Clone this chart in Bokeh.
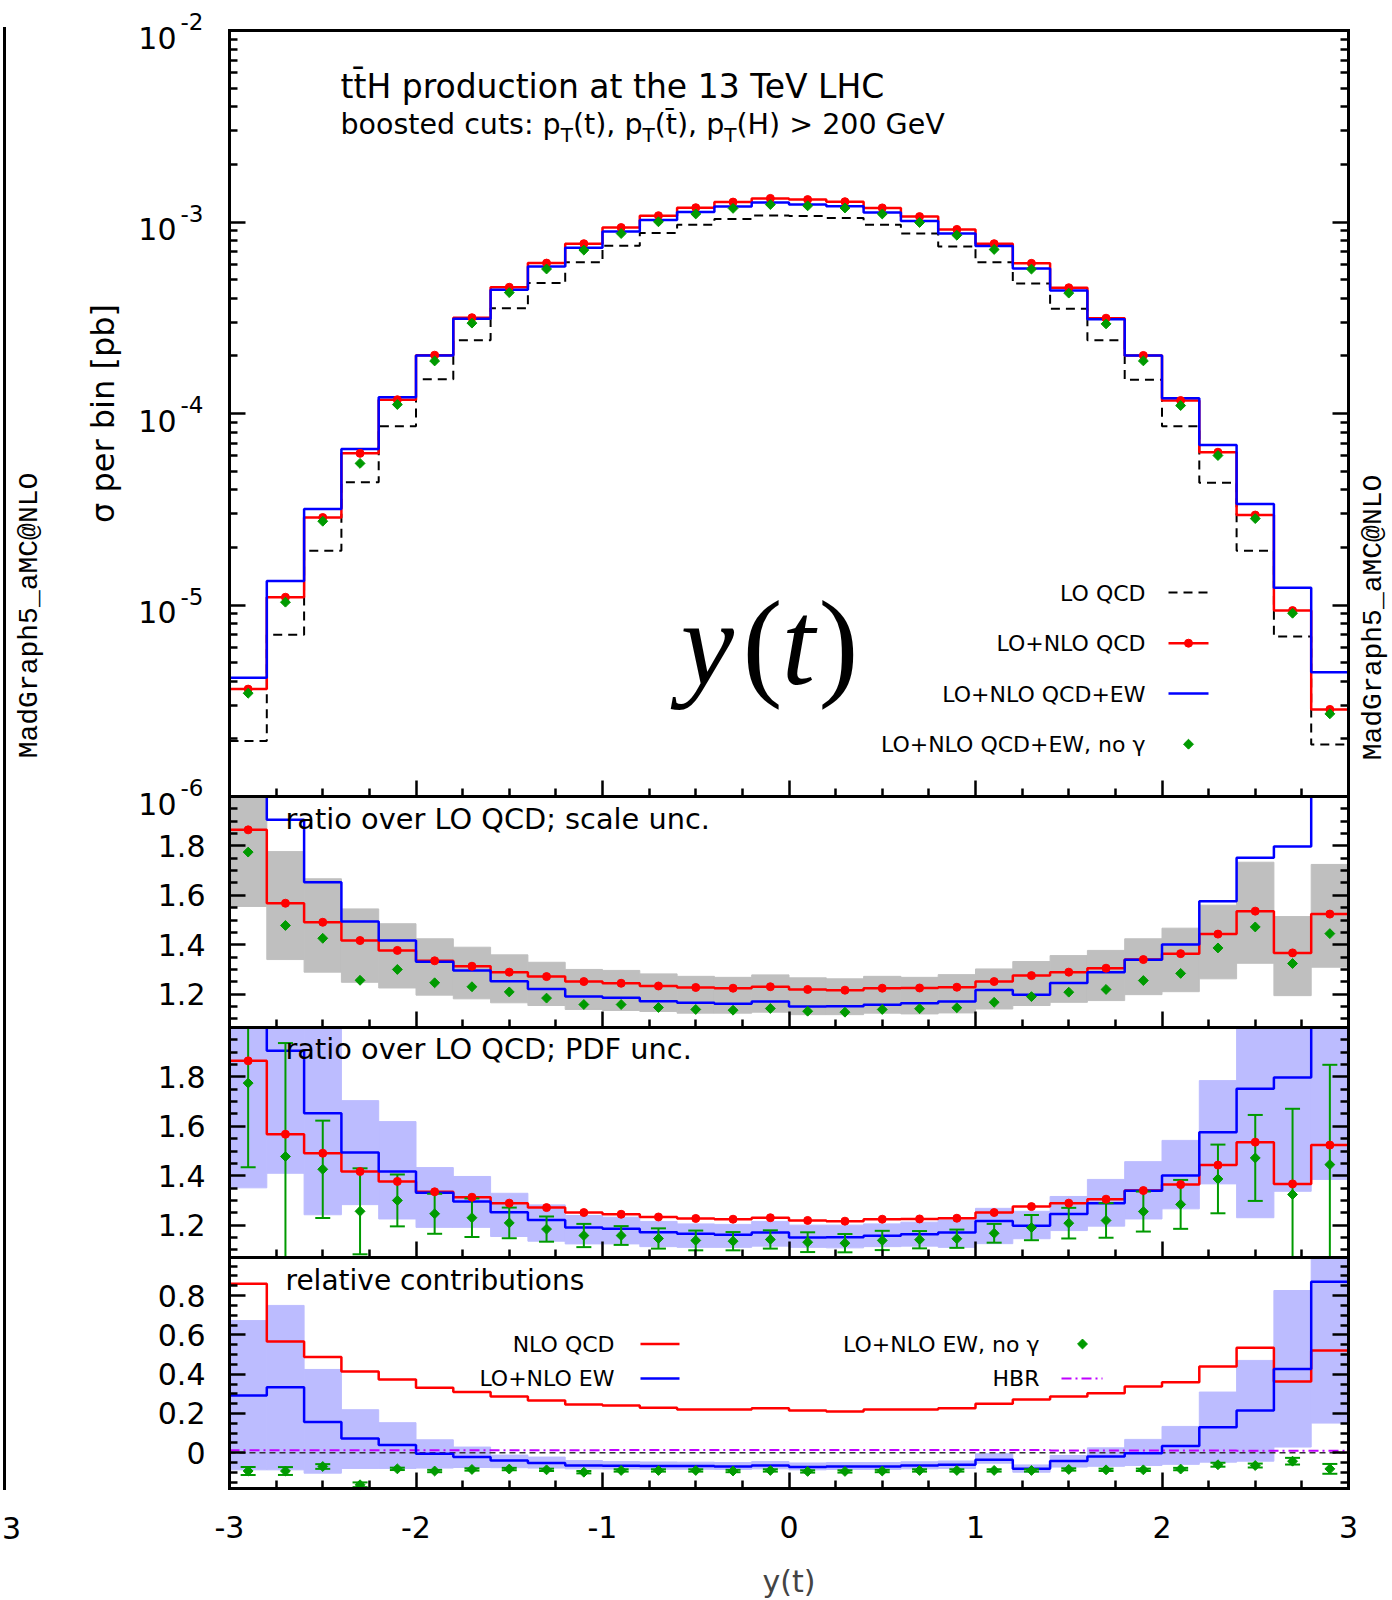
import math
from bokeh.plotting import figure
from bokeh.models import Range1d, FixedTicker, LinearAxis, LogAxis, LogScale, Label
from bokeh.embed import file_html
from bokeh.resources import INLINE

# ---------------------------------------------------------------- data
bin_edges = [-3.0, -2.8, -2.6, -2.4, -2.2, -2.0, -1.8, -1.6, -1.4, -1.2, -1.0,
             -0.8, -0.6, -0.4, -0.2, 0.0, 0.2, 0.4, 0.6, 0.8, 1.0,
             1.2, 1.4, 1.6, 1.8, 2.0, 2.2, 2.4, 2.6, 2.8, 3.0]

# LO QCD cross section per bin [pb]
lo_qcd = [1.95e-6, 7.0e-6, 1.92e-5, 4.37e-5, 8.57e-5, 1.51e-4, 2.41e-4, 3.54e-4, 4.80e-4, 6.16e-4,
          7.52e-4, 8.75e-4, 9.68e-4, 1.038e-3, 1.08e-3, 1.074e-3, 1.05e-3, 9.68e-4, 8.71e-4, 7.45e-4,
          6.16e-4, 4.77e-4, 3.52e-4, 2.41e-4, 1.50e-4, 8.57e-5, 4.35e-5, 1.92e-5, 6.84e-6, 1.87e-6]

# ratios over LO QCD
ratio_nlo_qcd = [1.865, 1.568, 1.491, 1.417, 1.377, 1.335, 1.313, 1.289, 1.271, 1.251,
                 1.244, 1.233, 1.227, 1.224, 1.230, 1.219, 1.216, 1.224, 1.225, 1.228,
                 1.251, 1.275, 1.289, 1.305, 1.340, 1.364, 1.443, 1.536, 1.367, 1.524]
ratio_nlo_qcd_ew = [2.14, 1.906, 1.653, 1.494, 1.417, 1.331, 1.296, 1.252, 1.221, 1.190,
                    1.185, 1.171, 1.165, 1.161, 1.170, 1.150, 1.151, 1.157, 1.163, 1.170,
                    1.217, 1.198, 1.245, 1.289, 1.339, 1.401, 1.576, 1.752, 1.798, 2.38]
ratio_no_photon = [1.775, 1.478, 1.426, 1.256, 1.300, 1.246, 1.230, 1.209, 1.184, 1.158,
                   1.158, 1.146, 1.138, 1.135, 1.142, 1.131, 1.127, 1.138, 1.141, 1.145,
                   1.167, 1.190, 1.208, 1.219, 1.255, 1.284, 1.387, 1.472, 1.324, 1.445]
ratio_no_photon_err = [0.341, 0.459, 0.197, 0.174, 0.105, 0.081, 0.078, 0.062, 0.051, 0.047,
                       0.038, 0.041, 0.040, 0.037, 0.037, 0.040, 0.037, 0.039, 0.035, 0.037,
                       0.038, 0.051, 0.062, 0.070, 0.081, 0.099, 0.139, 0.174, 0.347, 0.404]

# scale uncertainty band (NLO QCD)
scale_lo = [1.555, 1.340, 1.289, 1.248, 1.225, 1.196, 1.181, 1.165, 1.154, 1.138,
            1.134, 1.130, 1.123, 1.123, 1.127, 1.117, 1.117, 1.123, 1.120, 1.124,
            1.140, 1.154, 1.167, 1.174, 1.198, 1.210, 1.262, 1.325, 1.194, 1.309]
scale_hi = [2.05, 1.777, 1.667, 1.545, 1.485, 1.424, 1.390, 1.359, 1.329, 1.300,
            1.296, 1.282, 1.272, 1.268, 1.278, 1.266, 1.262, 1.272, 1.268, 1.279,
            1.302, 1.332, 1.356, 1.377, 1.424, 1.467, 1.560, 1.734, 1.514, 1.725]

# PDF uncertainty band (NLO QCD+EW)
pdf_lo = [1.351, 1.410, 1.242, 1.283, 1.225, 1.191, 1.191, 1.154, 1.135, 1.124,
          1.124, 1.113, 1.110, 1.110, 1.115, 1.110, 1.108, 1.113, 1.115, 1.110,
          1.125, 1.145, 1.178, 1.196, 1.225, 1.266, 1.367, 1.230, 1.337, 1.385]
pdf_hi = [2.9, 2.4, 2.06, 1.704, 1.619, 1.433, 1.397, 1.329, 1.282, 1.239,
          1.232, 1.215, 1.205, 1.203, 1.215, 1.200, 1.200, 1.205, 1.212, 1.221,
          1.268, 1.256, 1.316, 1.385, 1.457, 1.543, 1.785, 2.3, 2.3, 2.5]

# relative contributions (over LO QCD)
rel_nlo_qcd = [0.860, 0.566, 0.487, 0.414, 0.373, 0.331, 0.309, 0.287, 0.266, 0.246,
               0.241, 0.229, 0.220, 0.220, 0.227, 0.215, 0.210, 0.220, 0.220, 0.227,
               0.249, 0.271, 0.287, 0.303, 0.337, 0.359, 0.439, 0.534, 0.363, 0.521]
rel_ew = [0.292, 0.334, 0.157, 0.072, 0.039, -0.005, -0.022, -0.039, -0.052, -0.065,
          -0.066, -0.068, -0.068, -0.070, -0.065, -0.073, -0.070, -0.070, -0.065, -0.061,
          -0.036, -0.081, -0.042, -0.019, -0.003, 0.035, 0.130, 0.215, 0.427, 0.870]
rel_ew_lo = [-0.087, -0.087, -0.104, -0.080, -0.080, -0.078, -0.075, -0.076, -0.078, -0.082,
             -0.083, -0.084, -0.084, -0.085, -0.082, -0.087, -0.085, -0.085, -0.082, -0.080,
             -0.053, -0.099, -0.073, -0.069, -0.065, -0.059, -0.048, -0.043, 0.029, 0.151]
rel_ew_hi = [0.673, 0.750, 0.424, 0.219, 0.153, 0.066, 0.029, -0.012, -0.022, -0.040,
             -0.045, -0.047, -0.048, -0.050, -0.045, -0.052, -0.050, -0.050, -0.046, -0.042,
             -0.005, -0.062, -0.014, 0.025, 0.068, 0.134, 0.309, 0.470, 0.826, 1.10]
rel_ew_no_photon = [-0.093, -0.093, -0.070, -0.163, -0.082, -0.093, -0.085, -0.083, -0.087, -0.099,
                    -0.090, -0.090, -0.090, -0.093, -0.090, -0.095, -0.095, -0.093, -0.090, -0.090,
                    -0.090, -0.090, -0.085, -0.087, -0.087, -0.083, -0.061, -0.065, -0.043, -0.082]
rel_ew_no_photon_err = [0.020, 0.020, 0.012, 0.012, 0.006, 0.006, 0.006, 0.006, 0.006, 0.006,
                        0.006, 0.006, 0.006, 0.006, 0.006, 0.006, 0.006, 0.006, 0.006, 0.006,
                        0.006, 0.006, 0.006, 0.006, 0.006, 0.006, 0.010, 0.010, 0.017, 0.025]
rel_hbr = [0.013, 0.013, 0.013, 0.013, 0.013, 0.013, 0.013, 0.013, 0.013, 0.013,
           0.014, 0.014, 0.014, 0.014, 0.014, 0.014, 0.014, 0.014, 0.014, 0.014,
           0.014, 0.014, 0.012, 0.012, 0.012, 0.012, 0.012, 0.010, 0.010, 0.010]

x_major = [-3, -2, -1, 0, 1, 2, 3]
x_major_labels = ["-3", "-2", "-1", "0", "1", "2", "3"]
ratio_major = [1.2, 1.4, 1.6, 1.8]
ratio_major_labels = ["1.2", "1.4", "1.6", "1.8"]
rel_major = [0.0, 0.2, 0.4, 0.6, 0.8]
rel_major_labels = ["0", "0.2", "0.4", "0.6", "0.8"]
log_decades = [-6, -5, -4, -3, -2]

# ---------------------------------------------------------------- geometry & style
RED, BLUE, GREEN = "#ff0000", "#0000ff", "#009a00"
GRAY_BAND, PDF_BAND, HBR_COL = "#bfbfbf", "#bcbcff", "#c000ff"
FONT = "DejaVu Sans"

W, H = 1392, 1600
LEFT, RIGHT = 229, 1348                 # panel box edges on the canvas
PX_PER_X = (RIGHT - LEFT) / 6.0
X_START = -3.0 - LEFT / PX_PER_X
X_END = X_START + W / PX_PER_X

# stacked panels (canvas rows): main 30-796, scale 796-1027, pdf 1027-1257, rel 1257-1488
TOP_ROWS, R1_ROWS, R2_ROWS, B_ROWS = (30, 796), (796, 1027), (1027, 1257), (1257, 1488)
TOP_LIM = (1e-6, 1e-2)
R1_LIM = (1.065, 2.0)
R2_LIM = (1.069, 2.0)
B_LIM = (-0.182, 0.994)

TOP_K = (TOP_ROWS[1] - TOP_ROWS[0]) / (math.log10(TOP_LIM[1]) - math.log10(TOP_LIM[0]))
R1_K = (R1_ROWS[1] - R1_ROWS[0]) / (R1_LIM[1] - R1_LIM[0])
R2_K = (R2_ROWS[1] - R2_ROWS[0]) / (R2_LIM[1] - R2_LIM[0])
B_K = (B_ROWS[1] - B_ROWS[0]) / (B_LIM[1] - B_LIM[0])

bin_lo = bin_edges[:-1]
bin_hi = bin_edges[1:]
centers = [0.5 * (a + b) for a, b in zip(bin_lo, bin_hi)]


def xd(px):
    return X_START + px / PX_PER_X


def y_top(py):
    return 10 ** (math.log10(TOP_LIM[1]) - (py - TOP_ROWS[0]) / TOP_K)


def y_r1(py):
    return R1_LIM[1] - (py - R1_ROWS[0]) / R1_K


def y_r2(py):
    return R2_LIM[1] - (py - R2_ROWS[0]) / R2_K


def y_b(py):
    return B_LIM[1] - (py - B_ROWS[0]) / B_K


def full_range(conv):
    return Range1d(conv(H), conv(0))


def clip(vals, lim):
    return [min(max(v, lim[0]), lim[1]) for v in vals]


x_minor = [v / 4.0 for v in range(-12, 13) if v % 4 != 0]
x_ticker = FixedTicker(ticks=x_major, minor_ticks=x_minor)
no_ticks = FixedTicker(ticks=[], minor_ticks=[])

p = figure(width=W, height=H, x_range=Range1d(X_START, X_END), y_range=full_range(y_b),
           extra_y_ranges={"top": full_range(y_top), "r1": full_range(y_r1), "r2": full_range(y_r2)},
           extra_y_scales={"top": LogScale()},
           x_axis_location=None, y_axis_location=None, title=None,
           output_backend="svg", toolbar_location=None,
           min_border_left=0, min_border_right=0, min_border_top=0, min_border_bottom=0,
           background_fill_color="white", border_fill_color="white", outline_line_color=None)
p.grid.visible = False


def frame_axis(side, cls, rn, loc, bounds, ticker, labels=None, standoff=24):
    ax = cls(fixed_location=loc, bounds=bounds, ticker=ticker, y_range_name=rn)
    ax.axis_line_color = "black"
    ax.axis_line_width = 3
    ax.axis_line_cap = "square"
    ax.major_tick_in, ax.major_tick_out = 16, 0
    ax.minor_tick_in, ax.minor_tick_out = 8, 0
    ax.major_tick_line_width = 2.5
    ax.minor_tick_line_width = 2.5
    ax.major_tick_line_color = "black"
    ax.minor_tick_line_color = "black"
    if labels is None:
        ax.major_label_text_font_size = "1px"
        ax.major_label_text_color = None
        ax.major_label_standoff = 0
    else:
        ax.major_label_overrides = labels
        ax.major_label_text_font = FONT
        ax.major_label_text_font_size = "30px"
        ax.major_label_text_color = "black"
        ax.major_label_standoff = standoff
    p.add_layout(ax, side)
    return ax


def box(ycls, rn, lim, y_ticker, y_labels=None, x_labels=None, top_edge=False):
    frame_axis("left", ycls, rn, -3.0, lim, y_ticker, y_labels)
    frame_axis("right", ycls, rn, 3.0, lim, y_ticker)
    bottom = frame_axis("below", LinearAxis, rn, lim[0], (-3.0, 3.0), x_ticker, x_labels, standoff=27)
    if top_edge:
        frame_axis("above", LinearAxis, rn, lim[1], (-3.0, 3.0), no_ticks)
    return bottom


def text(rn, x, y, s, size, align="left", baseline="alphabetic", font=FONT,
         style="normal", angle=0.0, y_off=0.0):
    lift = 0.33 * size if baseline == "alphabetic" else 0.0
    p.add_layout(Label(x=x, y=y, y_range_name=rn, text=s, text_font=font,
                       text_font_size=f"{size}px", text_align=align, text_baseline=baseline,
                       text_font_style=style, angle=angle, y_offset=y_off + lift,
                       text_color="black"))


def steps(rn, vals, **kw):
    p.step(bin_edges, list(vals) + [vals[-1]], mode="after", y_range_name=rn, **kw)


def diamonds(rn, xs, ys):
    p.scatter(xs, ys, marker="square", angle=math.pi / 4, size=7, color=GREEN, y_range_name=rn)


def dots(rn, xs, ys):
    p.scatter(xs, ys, marker="circle", size=8, color=RED, y_range_name=rn)


cap = 7.5 / PX_PER_X


def error_bars(rn, vals, errs, lim):
    lo = [v - e for v, e in zip(vals, errs)]
    hi = [v + e for v, e in zip(vals, errs)]
    p.segment(x0=centers, x1=centers, y0=clip(lo, lim), y1=clip(hi, lim),
              line_color=GREEN, line_width=2, y_range_name=rn)
    for ends in (lo, hi):
        keep = [(c, e) for c, e in zip(centers, ends) if lim[0] <= e <= lim[1]]
        p.segment(x0=[c - cap for c, _ in keep], x1=[c + cap for c, _ in keep],
                  y0=[e for _, e in keep], y1=[e for _, e in keep],
                  line_color=GREEN, line_width=2, y_range_name=rn)


# right edge of the neighbouring figure
frame_axis("right", LinearAxis, "default", xd(4), (y_b(B_ROWS[1]), y_b(28)), no_ticks)

# ---------------------------------------------------------------- main panel
log_minor = [m * 10.0 ** e for e in range(-6, -2) for m in range(2, 10)]
log_ticker = FixedTicker(ticks=[10.0 ** e for e in log_decades], minor_ticks=log_minor)
box(LogAxis, "top", TOP_LIM, log_ticker, top_edge=True)

abs_qcd = [l * r for l, r in zip(lo_qcd, ratio_nlo_qcd)]
abs_qcd_ew = [l * r for l, r in zip(lo_qcd, ratio_nlo_qcd_ew)]
abs_no_photon = [l * r for l, r in zip(lo_qcd, ratio_no_photon)]

steps("top", lo_qcd, line_color="black", line_width=2, line_dash="9 6")
steps("top", abs_qcd, line_color=RED, line_width=2.5)
steps("top", abs_qcd_ew, line_color=BLUE, line_width=2.5)
dots("top", centers, abs_qcd)
diamonds("top", centers, abs_no_photon)

for e in log_decades:
    text("top", xd(176), 10.0 ** e, "10", 30, align="right", y_off=-17)
    text("top", xd(180), 10.0 ** e, f"{e}", 23, align="left", y_off=1)

text("top", xd(340), y_top(96.5), "tt\u0304H production at the 13 TeV LHC", 33)
# subtitle with subscripted T
SUB_BASE = y_top(133.3)
sub_pieces = [("boosted cuts: p", 340.0, 28.5, 0), ("T", 560.2, 20, -8),
              ("(t), p", 572.4, 28.5, 0), ("T", 642.0, 20, -8),
              ("(t\u0304), p", 654.2, 28.5, 0), ("T", 723.8, 20, -8),
              ("(H) > 200 GeV", 736.0, 28.5, 0)]
for s, px, size, off in sub_pieces:
    text("top", xd(px), SUB_BASE, s, size, y_off=off)

# large variable name
YT_BASE = y_top(683)
text("top", xd(707), YT_BASE, "y", 120, align="center", font="Liberation Serif", style="italic")
text("top", xd(762), YT_BASE, "(", 120, align="center", font="Liberation Serif")
text("top", xd(798), YT_BASE, "t", 120, align="center", font="Liberation Serif", style="italic")
text("top", xd(838), YT_BASE, ")", 120, align="center", font="Liberation Serif")

# legend
LEG_TX = xd(1145)
LEG_X0, LEG_X1, LEG_XM = xd(1168), xd(1208), xd(1188)
leg_rows = [("LO QCD", 600.0), ("LO+NLO QCD", 650.7), ("LO+NLO QCD+EW", 701.0),
            ("LO+NLO QCD+EW, no \u03b3", 751.7)]
for s, base in leg_rows:
    text("top", LEG_TX, y_top(base), s, 22, align="right")
ly = [y_top(b - 8) for _, b in leg_rows]
p.segment(x0=[LEG_X0], x1=[LEG_X1], y0=[ly[0]], y1=[ly[0]], line_color="black", line_width=2,
          line_dash="9 6", y_range_name="top")
p.segment(x0=[LEG_X0], x1=[LEG_X1], y0=[ly[1]], y1=[ly[1]], line_color=RED, line_width=2.5,
          y_range_name="top")
dots("top", [LEG_XM], [ly[1]])
p.segment(x0=[LEG_X0], x1=[LEG_X1], y0=[ly[2]], y1=[ly[2]], line_color=BLUE, line_width=2.5,
          y_range_name="top")
diamonds("top", [LEG_XM], [ly[3]])

text("top", xd(1373), y_top(617), "MadGraph5_aMC@NLO", 28, align="center", baseline="middle",
     font="Liberation Mono", angle=math.pi / 2)
text("top", xd(29), y_top(615), "MadGraph5_aMC@NLO", 28, align="center", baseline="middle",
     font="Liberation Mono", angle=math.pi / 2)
text("top", xd(102), y_top(413), "\u03c3 per bin [pb]", 32, align="center", baseline="middle",
     angle=math.pi / 2)

# ---------------------------------------------------------------- ratio: scale uncertainty
ratio_ticker = FixedTicker(ticks=ratio_major,
                           minor_ticks=[1.1, 1.15, 1.25, 1.3, 1.35, 1.45, 1.5, 1.55, 1.65, 1.7,
                                        1.75, 1.85, 1.9, 1.95])
ratio_labels = dict(zip(ratio_major, ratio_major_labels))

box(LinearAxis, "r1", R1_LIM, ratio_ticker, ratio_labels)
p.quad(left=bin_lo, right=bin_hi, bottom=clip(scale_lo, R1_LIM), top=clip(scale_hi, R1_LIM),
       fill_color=GRAY_BAND, line_color=GRAY_BAND, line_width=1, y_range_name="r1")
steps("r1", clip(ratio_nlo_qcd, R1_LIM), line_color=RED, line_width=2.5)
steps("r1", clip(ratio_nlo_qcd_ew, R1_LIM), line_color=BLUE, line_width=2.5)
dots("r1", centers, ratio_nlo_qcd)
diamonds("r1", centers, ratio_no_photon)
text("r1", xd(285), y_r1(828), "ratio over LO QCD; scale unc.", 28.8)

# ---------------------------------------------------------------- ratio: PDF uncertainty
box(LinearAxis, "r2", R2_LIM, ratio_ticker, ratio_labels)
p.quad(left=bin_lo, right=bin_hi, bottom=clip(pdf_lo, R2_LIM), top=clip(pdf_hi, R2_LIM),
       fill_color=PDF_BAND, line_color=PDF_BAND, line_width=1, y_range_name="r2")
steps("r2", clip(ratio_nlo_qcd, R2_LIM), line_color=RED, line_width=2.5)
steps("r2", clip(ratio_nlo_qcd_ew, R2_LIM), line_color=BLUE, line_width=2.5)
error_bars("r2", ratio_no_photon, ratio_no_photon_err, R2_LIM)
dots("r2", centers, ratio_nlo_qcd)
diamonds("r2", centers, ratio_no_photon)
text("r2", xd(285), y_r2(1058.3), "ratio over LO QCD; PDF unc.", 28.8)

# ---------------------------------------------------------------- relative contributions
rel_ticker = FixedTicker(ticks=rel_major,
                         minor_ticks=[-0.15, -0.1, -0.05, 0.05, 0.1, 0.15, 0.25, 0.3, 0.35, 0.45,
                                      0.5, 0.55, 0.65, 0.7, 0.75, 0.85, 0.9, 0.95])
xax = box(LinearAxis, "default", B_LIM, rel_ticker, dict(zip(rel_major, rel_major_labels)),
          x_labels=dict(zip(x_major, x_major_labels)))
xax.axis_label = "y(t)"
xax.axis_label_text_font = FONT
xax.axis_label_text_font_size = "30px"
xax.axis_label_text_font_style = "normal"
xax.axis_label_standoff = 23

p.quad(left=bin_lo, right=bin_hi, bottom=clip(rel_ew_lo, B_LIM), top=clip(rel_ew_hi, B_LIM),
       fill_color=PDF_BAND, line_color=PDF_BAND, line_width=1)
zero_line = [0.0] * 31
p.line(bin_edges, zero_line, line_color="#333333", line_width=1.5, line_dash="6 4")
steps("default", rel_hbr, line_color=HBR_COL, line_width=2, line_dash="10 4 2 4")
steps("default", clip(rel_nlo_qcd, B_LIM), line_color=RED, line_width=2.5)
steps("default", clip(rel_ew, B_LIM), line_color=BLUE, line_width=2.5)
error_bars("default", rel_ew_no_photon, rel_ew_no_photon_err, B_LIM)
diamonds("default", centers, rel_ew_no_photon)
text("default", xd(285), y_b(1289.3), "relative contributions", 28)

# legend
text("default", xd(614), y_b(1351), "NLO QCD", 22, align="right")
text("default", xd(614), y_b(1385.7), "LO+NLO EW", 22, align="right")
text("default", xd(1039), y_b(1351), "LO+NLO EW, no \u03b3", 22, align="right")
text("default", xd(1039), y_b(1385.7), "HBR", 22, align="right")
p.segment(x0=[xd(640)], x1=[xd(679)], y0=[y_b(1343.5)], y1=[y_b(1343.5)], line_color=RED, line_width=2.5)
p.segment(x0=[xd(640)], x1=[xd(679)], y0=[y_b(1378)], y1=[y_b(1378)], line_color=BLUE, line_width=2.5)
diamonds("default", [xd(1082)], [y_b(1343.5)])
p.segment(x0=[xd(1061)], x1=[xd(1102)], y0=[y_b(1378)], y1=[y_b(1378)], line_color=HBR_COL,
          line_width=2, line_dash="10 4 2 4")

# tick label of the neighbouring figure at the left edge
text("default", xd(11), y_b(1537), "3", 30, align="center")

open("out.html", "w").write(file_html(p, INLINE, "y(t)"))
